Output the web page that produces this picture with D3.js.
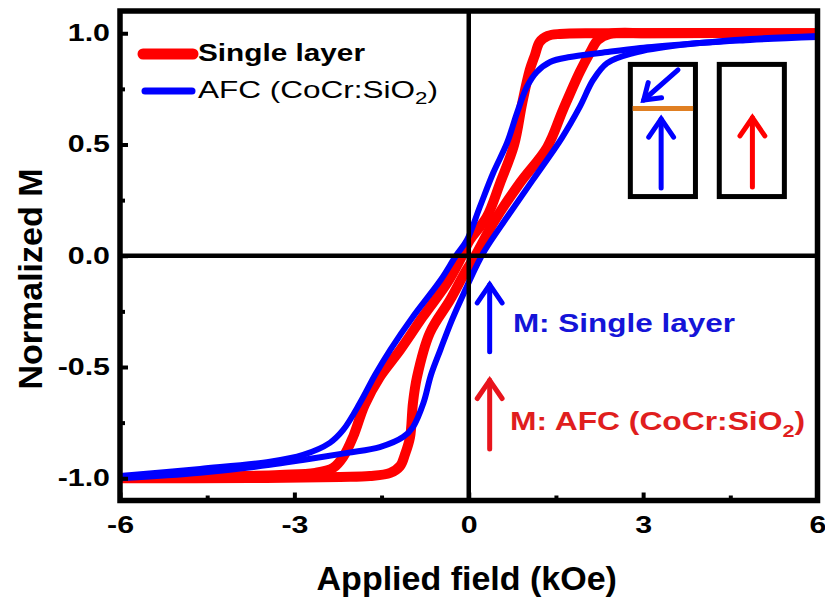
<!DOCTYPE html>
<html>
<head>
<meta charset="utf-8">
<script src="https://cdn.jsdelivr.net/npm/d3@7.9.0/dist/d3.min.js"></script>
<style>
  body { margin: 0; background: #fff; }
  svg { display: block; }
  text { font-family: "Liberation Sans", Arial, sans-serif; }
</style>
</head>
<body>
<svg id="chart" width="825" height="597"></svg>
<script>
// Single layer loop (field in kOe, normalized M)
const redDownH = [6, 2.26, 1.57, 1.36, 1.22, 1.14, 1.05, 0.92, 0.78, 0.54, 0.31, 0.02, -0.15, -0.37, -0.79, -1.18, -1.53, -1.79, -1.99, -2.16, -2.33, -2.64, -3.25, -4.62, -6];
const redDownM = [1.0, 1.0, 0.997, 0.988, 0.961, 0.903, 0.835, 0.686, 0.498, 0.327, 0.174, 0.071, -0.019, -0.122, -0.274, -0.423, -0.545, -0.670, -0.814, -0.904, -0.953, -0.976, -0.985, -0.994, -0.999];
const redUpH = [-6, -3.76, -2.21, -1.70, -1.35, -1.18, -1.10, -1.01, -0.96, -0.89, -0.67, -0.32, -0.06, 0.12, 0.42, 0.88, 1.35, 1.62, 1.91, 2.09, 2.22, 2.43, 3.11, 6];
const redUpM = [-1.0, -0.999, -0.994, -0.990, -0.976, -0.945, -0.895, -0.815, -0.662, -0.545, -0.347, -0.198, -0.073, 0.003, 0.147, 0.327, 0.488, 0.655, 0.826, 0.915, 0.970, 0.997, 1.0, 1.0];

// AFC (CoCr:SiO2) loop
const blueDownH = [6, 4.84, 3.97, 2.95, 2.26, 1.74, 1.40, 1.17, 1.00, 0.83, 0.66, 0.42, 0.19, -0.03, -0.22, -0.48, -0.96, -1.35, -1.61, -1.87, -2.16, -2.39, -2.85, -3.42, -4.62, -6];
const blueDownM = [0.988, 0.974, 0.956, 0.934, 0.911, 0.893, 0.871, 0.826, 0.759, 0.642, 0.508, 0.372, 0.219, 0.071, 0.0, -0.108, -0.274, -0.423, -0.535, -0.661, -0.783, -0.841, -0.895, -0.926, -0.958, -0.990];
const blueUpH = [-6, -4.62, -3.42, -2.86, -2.09, -1.53, -1.13, -0.96, -0.78, -0.65, -0.49, -0.29, -0.06, 0.14, 0.28, 0.66, 1.10, 1.60, 1.91, 2.14, 2.38, 2.83, 3.63, 4.84, 6];
const blueUpM = [-1.0, -0.975, -0.940, -0.918, -0.886, -0.860, -0.815, -0.770, -0.662, -0.536, -0.424, -0.289, -0.154, -0.042, 0.026, 0.174, 0.340, 0.529, 0.669, 0.790, 0.866, 0.911, 0.947, 0.970, 0.983];

const xTicks = [-6, -3, 0, 3, 6];
const xMinor = [-4.5, -1.5, 1.5, 4.5];
const yTicks = [-1, -0.5, 0, 0.5, 1];
const yMinor = [-0.75, -0.25, 0.25, 0.75];

const RED = '#ff0000', BLUE = '#0000ff';

const svg = d3.select('#chart');
svg.append('rect').attr('width', 825).attr('height', 597).attr('fill', '#fff');

const x = d3.scaleLinear().domain([-6, 6]).range([120, 817.5]);
const y = d3.scaleLinear().domain([-1.1, 1.1]).range([500.5, 11]);

const [x0, x1] = x.range();
const [y0, y1] = y.range();

svg.append('clipPath').attr('id', 'plot-clip')
  .append('rect')
  .attr('x', x0).attr('y', y1)
  .attr('width', x1 - x0).attr('height', y0 - y1);

const zip = (hs, ms) => hs.map((h, i) => [h, ms[i]]);
const line = d3.line()
  .x(d => x(d[0]))
  .y(d => y(d[1]))
  .curve(d3.curveCatmullRom.alpha(0.5));

const curves = svg.append('g').attr('clip-path', 'url(#plot-clip)');

// red first, blue sits on top
[[redDownH, redDownM], [redUpH, redUpM]].forEach(([h, m]) => {
  curves.append('path')
    .attr('d', line(zip(h, m)))
    .attr('fill', 'none')
    .attr('stroke', RED)
    .attr('stroke-width', 10)
    .attr('stroke-linejoin', 'round')
    .attr('stroke-linecap', 'round');
});
[[blueDownH, blueDownM], [blueUpH, blueUpM]].forEach(([h, m]) => {
  curves.append('path')
    .attr('d', line(zip(h, m)))
    .attr('fill', 'none')
    .attr('stroke', BLUE)
    .attr('stroke-width', 6)
    .attr('stroke-linejoin', 'round')
    .attr('stroke-linecap', 'round');
});

// zero lines
svg.append('line')
  .attr('x1', x(0)).attr('x2', x(0)).attr('y1', y1).attr('y2', y0)
  .attr('stroke', '#000').attr('stroke-width', 4.5);
svg.append('line')
  .attr('x1', x0).attr('x2', x1).attr('y1', y(0)).attr('y2', y(0))
  .attr('stroke', '#000').attr('stroke-width', 4.5);

// the source's labels are wide, so stretch the glyphs a bit
function widen(sel, k) {
  sel.each(function () {
    const len = this.getComputedTextLength();
    d3.select(this).attr('textLength', len * k).attr('lengthAdjust', 'spacingAndGlyphs');
  });
}

const hyphen = f => d => f(d).replace('\u2212', '-');

const tickFont = sel => sel.selectAll('text')
  .attr('font-family', '"Liberation Sans", Arial, sans-serif')
  .attr('font-weight', 'bold')
  .attr('font-size', 23)
  .attr('fill', '#000')
  .call(widen, 1.32);

const xAxis = svg.append('g')
  .attr('transform', `translate(0,${y0})`)
  .call(d3.axisBottom(x).tickValues(xTicks).tickFormat(hyphen(d3.format('d')))
    .tickSizeInner(-8).tickSizeOuter(0).tickPadding(16));
xAxis.select('.domain').remove();
xAxis.call(tickFont);
xAxis.selectAll('.tick line').attr('stroke-width', 4);

const xAxisMinor = svg.append('g')
  .attr('transform', `translate(0,${y0})`)
  .call(d3.axisBottom(x).tickValues(xMinor).tickFormat('')
    .tickSizeInner(-5).tickSizeOuter(0));
xAxisMinor.select('.domain').remove();
xAxisMinor.selectAll('.tick line').attr('stroke-width', 4);

const yAxis = svg.append('g')
  .attr('transform', `translate(${x0},0)`)
  .call(d3.axisLeft(y).tickValues(yTicks).tickFormat(hyphen(d3.format('.1f')))
    .tickSizeInner(-8).tickSizeOuter(0).tickPadding(10));
yAxis.select('.domain').remove();
yAxis.call(tickFont);
yAxis.selectAll('.tick line').attr('stroke-width', 4);

const yAxisMinor = svg.append('g')
  .attr('transform', `translate(${x0},0)`)
  .call(d3.axisLeft(y).tickValues(yMinor).tickFormat('')
    .tickSizeInner(-5).tickSizeOuter(0));
yAxisMinor.select('.domain').remove();
yAxisMinor.selectAll('.tick line').attr('stroke-width', 4);

// frame
svg.append('rect')
  .attr('x', x0).attr('y', y1)
  .attr('width', x1 - x0).attr('height', y0 - y1)
  .attr('fill', 'none').attr('stroke', '#000').attr('stroke-width', 5.5);

// axis titles
svg.append('text')
  .attr('x', (x0 + x1) / 2 - 2).attr('y', 590)
  .attr('text-anchor', 'middle')
  .attr('font-weight', 'bold').attr('font-size', 34)
  .text('Applied field (kOe)');

svg.append('text')
  .attr('transform', 'translate(42,279) rotate(-90)')
  .attr('text-anchor', 'middle')
  .attr('font-weight', 'bold').attr('font-size', 34)
  .text('Normalized M');

// legend
const legend = svg.append('g');
legend.append('line')
  .attr('x1', 143).attr('x2', 193).attr('y1', 54).attr('y2', 54)
  .attr('stroke', RED).attr('stroke-width', 11).attr('stroke-linecap', 'round');
legend.append('text')
  .attr('x', 198).attr('y', 61)
  .attr('font-weight', 'bold').attr('font-size', 24)
  .attr('textLength', 167).attr('lengthAdjust', 'spacingAndGlyphs')
  .text('Single layer');
legend.append('line')
  .attr('x1', 145).attr('x2', 192).attr('y1', 91).attr('y2', 91)
  .attr('stroke', BLUE).attr('stroke-width', 7).attr('stroke-linecap', 'round');
const afcLegend = legend.append('text')
  .attr('x', 198).attr('y', 98)
  .attr('font-size', 24)
  .attr('textLength', 240).attr('lengthAdjust', 'spacingAndGlyphs');
afcLegend.append('tspan').text('AFC (CoCr:SiO');
afcLegend.append('tspan').attr('font-size', 17).attr('dy', 6).text('2');
afcLegend.append('tspan').attr('dy', -6).text(')');

// arrow helper: stem from (ax,ay) to tip (bx,by), open chevron head
function arrow(g, ax, ay, bx, by, color, w, len) {
  const ang = Math.atan2(by - ay, bx - ax);
  const spread = 0.6;
  const p1 = [bx - len * Math.cos(ang - spread), by - len * Math.sin(ang - spread)];
  const p2 = [bx - len * Math.cos(ang + spread), by - len * Math.sin(ang + spread)];
  g.append('line')
    .attr('x1', ax).attr('y1', ay).attr('x2', bx).attr('y2', by)
    .attr('stroke', color).attr('stroke-width', w).attr('stroke-linecap', 'round');
  g.append('path')
    .attr('d', `M${p1}L${bx},${by}L${p2}`)
    .attr('fill', 'none').attr('stroke', color).attr('stroke-width', w)
    .attr('stroke-linecap', 'round').attr('stroke-linejoin', 'miter');
}

// inset: layer schematics
const inset = svg.append('g');
[[2.78, 3.90], [4.31, 5.43]].forEach(([a, b]) => {
  inset.append('rect')
    .attr('x', x(a)).attr('y', y(0.86))
    .attr('width', x(b) - x(a)).attr('height', y(0.266) - y(0.86))
    .attr('fill', '#fff').attr('stroke', '#000').attr('stroke-width', 5);
});
inset.append('line')
  .attr('x1', x(2.82)).attr('x2', x(3.86)).attr('y1', y(0.662)).attr('y2', y(0.662))
  .attr('stroke', '#e07f22').attr('stroke-width', 5);
arrow(inset, x(3.31), y(0.305), x(3.31), y(0.615), BLUE, 5, 22);
arrow(inset, x(3.60), y(0.835), x(3.01), y(0.700), BLUE, 5, 18);
arrow(inset, x(4.88), y(0.309), x(4.88), y(0.620), RED, 5, 22);

// annotations
const notes = svg.append('g');
arrow(notes, x(0.36), y(-0.432), x(0.36), y(-0.130), BLUE, 5, 22);
arrow(notes, x(0.36), y(-0.868), x(0.36), y(-0.560), '#e8141c', 5, 22);

notes.append('text')
  .attr('x', x(0.76)).attr('y', y(-0.343))
  .attr('font-weight', 'bold').attr('font-size', 25)
  .attr('fill', '#1414d8')
  .attr('textLength', 222).attr('lengthAdjust', 'spacingAndGlyphs')
  .text('M: Single layer');

const afcNote = notes.append('text')
  .attr('x', x(0.71)).attr('y', y(-0.783))
  .attr('font-weight', 'bold').attr('font-size', 25)
  .attr('fill', '#e01e1e')
  .attr('textLength', 295).attr('lengthAdjust', 'spacingAndGlyphs');
afcNote.append('tspan').text('M: AFC (CoCr:SiO');
afcNote.append('tspan').attr('font-size', 17).attr('dy', 7).text('2');
afcNote.append('tspan').attr('dy', -7).text(')');
</script>
</body>
</html>
